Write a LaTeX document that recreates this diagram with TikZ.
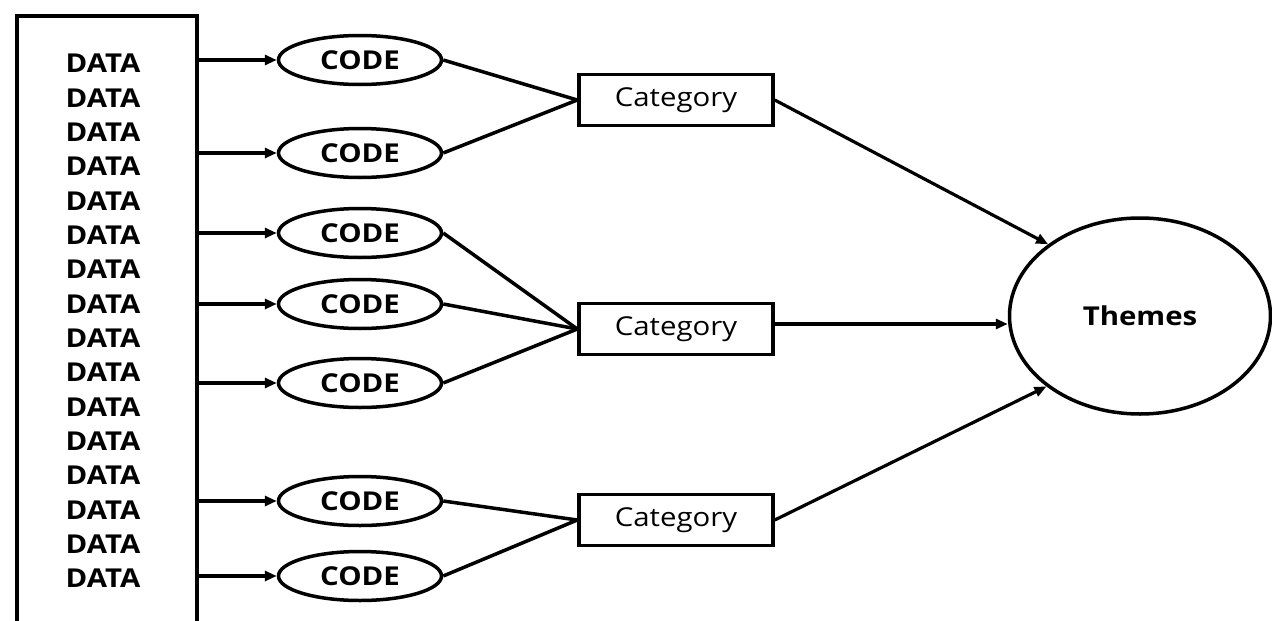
\documentclass[tikz,border=0pt]{standalone}
\usepackage{fontspec}
\setmainfont{Open Sans}[FakeStretch=1.13]
\usetikzlibrary{shapes.geometric,arrows.meta}

\tikzset{
  databox/.style={draw, line width=4pt, inner sep=0pt, anchor=north west},
  datatext/.style={font=\bfseries\fontsize{26}{31}\selectfont, inner sep=0pt},
  codenode/.style={draw, ellipse, line width=3.5pt, inner sep=0pt,
    minimum width=163pt, minimum height=49pt,
    font=\bfseries\fontsize{26}{31}\selectfont},
  catnode/.style={draw, rectangle, line width=3.5pt, inner sep=0pt,
    minimum width=194pt, minimum height=51pt,
    font=\fontsize{26}{31}\selectfont},
  themenode/.style={draw, ellipse, line width=3.5pt, inner sep=0pt,
    minimum width=261pt, minimum height=196pt,
    font=\bfseries\fontsize{26}{31}\selectfont},
  link/.style={line width=3.5pt},
  arr/.style={line width=3.2pt, -{Triangle[length=12pt,width=10pt]}},
}

\begin{document}
\begin{tikzpicture}[x=1pt, y=-1pt]
  \useasboundingbox (0,0) rectangle (1272,621);
  \clip (0,0) rectangle (1272,621);

  % raw data column (runs off the lower edge)
  \node[databox, minimum width=180pt, minimum height=640pt] (data) at (15,14) {};
  \foreach \i in {1,...,16} {
    \node[datatext] (d\i) at (103, {63.5 + (\i-1)*34.33}) {DATA};
  }

  % codes
  \node[codenode] (c1) at (360, 60)  {CODE};
  \node[codenode] (c2) at (360, 153) {CODE};
  \node[codenode] (c3) at (360, 233) {CODE};
  \node[codenode] (c4) at (360, 304) {CODE};
  \node[codenode] (c5) at (360, 383) {CODE};
  \node[codenode] (c6) at (360, 501) {CODE};
  \node[codenode] (c7) at (360, 576) {CODE};

  % categories
  \node[catnode] (cat1) at (676, 100) {Category};
  \node[catnode] (cat2) at (676, 329) {Category};
  \node[catnode] (cat3) at (676, 520) {Category};

  % themes
  \node[themenode] (themes) at (1140, 316) {Themes};

  % data -> codes
  \foreach \c in {c1,c2,c3,c4,c5,c6,c7} {
    \draw[arr] (data.east |- \c) -- (\c.west);
  }

  % codes -> categories
  \draw[link] (c1.east) -- (cat1.west);
  \draw[link] (c2.east) -- (cat1.west);
  \draw[link] (c3.east) -- (cat2.west);
  \draw[link] (c4.east) -- (cat2.west);
  \draw[link] (c5.east) -- (cat2.west);
  \draw[link] (c6.east) -- (cat3.west);
  \draw[link] (c7.east) -- (cat3.west);

  % categories -> themes
  \draw[arr] (cat1.east) -- (themes.142);
  \draw[arr] ([yshift=5pt]cat2.east) -- ([yshift=5pt]cat2.east -| themes.west);
  \draw[arr] (cat3.east) -- (themes.217);
\end{tikzpicture}
\end{document}
